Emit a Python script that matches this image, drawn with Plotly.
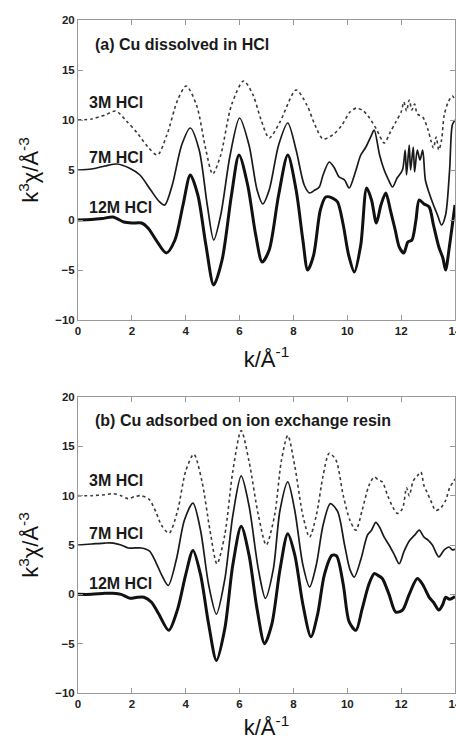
import plotly.graph_objects as go

# ---------------- panel (a): Cu dissolved in HCl ----------------
a3_k = [0, 0.5, 1.0, 1.4, 1.8, 2.2, 2.6, 2.95, 3.3, 3.7, 4.02, 4.4, 4.75, 5.0, 5.3, 5.7, 6.15, 6.5, 6.8, 7.1,
        7.5, 8.1, 8.5, 8.8, 9.1, 9.5, 9.8, 10.1, 10.35, 10.6, 10.8, 11.1, 11.37, 11.6, 11.8, 12.0, 12.1, 12.2,
        12.3, 12.4, 12.5, 12.6, 12.8, 13.0, 13.1, 13.2, 13.3, 13.4, 13.5, 13.6, 13.75, 13.9, 14.0]
a3_y = [10.0, 10.1, 10.5, 10.9, 9.9, 8.7, 7.3, 6.5, 8.5, 12.0, 13.4, 11.5, 7.0, 4.6, 6.5, 11.5, 13.9, 12.5, 10.0, 8.2,
        9.8, 13.0, 11.5, 9.5, 8.1, 8.6, 9.5, 10.8, 11.2, 10.9, 10.3, 9.0, 7.7, 8.8, 9.8, 10.8, 11.8, 10.9,
        12.0, 11.0, 11.6, 10.6, 10.3, 9.0, 8.0, 7.2, 8.3, 7.0, 8.0, 10.5, 11.8, 12.4, 12.0]

a7_k = [0, 0.5, 1.0, 1.45, 1.9, 2.3, 2.7, 3.0, 3.22, 3.5, 3.85, 4.17, 4.5, 4.8, 5.04, 5.3, 5.65, 6.0, 6.35, 6.65,
        6.86, 7.1, 7.45, 7.79, 8.1, 8.4, 8.6, 8.8, 8.96, 9.1, 9.33, 9.5, 9.7, 9.9, 10.07, 10.3, 10.5, 10.69,
        10.9, 11.0, 11.2, 11.37, 11.5, 11.68, 11.85, 12.05, 12.15, 12.2, 12.3, 12.35, 12.45, 12.5, 12.6, 12.7,
        12.8, 12.9, 13.04, 13.2, 13.35, 13.5, 13.65, 13.8, 13.9, 14.0]
a7_y = [5.0, 5.1, 5.4, 5.6, 5.2, 4.5, 3.0, 1.9, 1.5, 3.5, 7.5, 9.2, 7.0, 1.5, -2.0, 0.5, 6.5, 10.2, 7.5, 3.0,
        1.6, 3.0, 7.5, 9.7, 7.0, 3.5, 2.7, 3.0, 3.3, 4.5, 5.8, 5.3, 4.3, 4.0, 3.2, 4.8, 6.5, 7.3,
        8.5, 9.0, 6.5, 5.0, 4.2, 3.3, 4.2, 5.0, 7.0, 4.5, 7.5, 5.0, 7.3, 4.8, 7.0, 6.0,
        7.0, 4.0, 2.7, 1.5, 0.5, -0.5, 0.5, 5.0, 9.5, 10.0]

a12_k = [0, 0.5, 0.9, 1.3, 1.7, 2.0, 2.36, 2.6, 2.9, 3.28, 3.6, 3.9, 4.17, 4.45, 4.75, 5.04, 5.35, 5.7, 5.98,
         6.3, 6.6, 6.84, 7.1, 7.45, 7.79, 8.1, 8.35, 8.53, 8.75, 9.0, 9.2, 9.45, 9.64, 9.85, 10.05, 10.26,
         10.5, 10.72, 10.9, 11.08, 11.25, 11.43, 11.6, 11.78, 11.93, 12.1, 12.25, 12.4, 12.55, 12.67, 12.85,
         13.04, 13.2, 13.4, 13.55, 13.65, 13.8, 13.96, 14.0]
a12_y = [0, 0.05, 0.15, 0.3, -0.2, -0.3, -0.3, -0.8, -2.0, -3.3, -2.0, 1.5, 4.5, 2.5, -2.5, -6.5, -4.0, 2.5, 6.5,
         3.5, -1.5, -4.2, -3.0, 2.5, 6.5, 3.0, -2.0, -5.0, -3.5, 1.0, 2.3, 2.2, 1.8, -0.5, -3.5, -5.2,
         -2.5, 3.2, 2.0, -0.3, 1.5, 2.7, 1.0, -1.0, -2.7, -3.3, -2.2, -2.0, 0.0, 2.0, 1.6,
         1.3, -0.5, -2.7, -3.8, -5.0, -2.5, 0.7, 1.5]

# ---------------- panel (b): Cu adsorbed on ion exchange resin ----------------
b3_k = [0, 0.5, 1.0, 1.31, 1.6, 1.86, 2.1, 2.35, 2.65, 2.9, 3.1, 3.38, 3.7, 4.0, 4.3, 4.6, 4.9, 5.16, 5.45,
        5.75, 6.06, 6.35, 6.7, 6.99, 7.3, 7.55, 7.79, 8.05, 8.35, 8.6, 8.85, 9.1, 9.33, 9.58, 9.85, 10.1,
        10.32, 10.55, 10.8, 11.0, 11.15, 11.3, 11.5, 11.7, 11.86, 12.05, 12.2, 12.3, 12.45, 12.6, 12.73,
        12.85, 12.95, 13.1, 13.28, 13.45, 13.65, 13.8, 13.96, 14.0]
b3_y = [10.0, 10.0, 10.1, 10.2, 10.0, 9.7, 9.9, 10.0, 9.6, 8.3, 7.0, 6.2, 8.5, 12.5, 14.2, 11.5, 6.5, 3.1, 6.0,
        12.5, 16.6, 13.5, 8.0, 5.0, 8.0, 13.5, 16.1, 13.0, 8.0, 5.8, 8.0, 12.0, 14.3, 13.6, 10.0, 7.5,
        6.5, 8.5, 11.0, 11.9, 11.6, 11.4, 10.0, 8.8, 8.2, 8.7, 10.8, 10.0, 11.5, 12.0, 12.4,
        11.0, 10.4, 9.5, 8.5, 8.7, 9.5, 10.8, 11.5, 11.7]

b7_k = [0, 0.5, 1.0, 1.31, 1.6, 1.86, 2.1, 2.35, 2.65, 2.9, 3.1, 3.35, 3.65, 3.95, 4.27, 4.55, 4.85, 5.14,
        5.45, 5.75, 6.06, 6.35, 6.7, 6.96, 7.25, 7.5, 7.79, 8.05, 8.35, 8.6, 8.85, 9.1, 9.37, 9.64, 9.9,
        10.1, 10.26, 10.5, 10.75, 10.9, 11.06, 11.2, 11.37, 11.55, 11.75, 11.93, 12.1, 12.3, 12.5, 12.67,
        12.85, 13.0, 13.16, 13.4, 13.6, 13.78, 13.9, 14.0]
b7_y = [5.0, 5.1, 5.2, 5.2, 5.0, 4.7, 4.7, 4.7, 4.4, 3.2, 2.0, 0.9, 3.5, 7.5, 9.25, 6.5, 1.0, -2.0,
        1.5, 8.0, 12.0, 9.0, 2.5, -0.4, 2.5, 8.5, 11.4, 8.5, 3.0, 0.75, 3.0, 7.0, 9.2, 8.4, 5.0,
        2.5, 1.75, 3.5, 6.0, 6.5, 7.3, 6.8, 5.8, 5.0, 4.0, 3.1, 4.3, 5.4, 6.0, 6.5,
        5.8, 5.5, 5.0, 3.8, 4.5, 4.8, 4.5, 4.6]

b12_k = [0, 0.5, 1.0, 1.3, 1.6, 1.93, 2.2, 2.45, 2.73, 3.0, 3.37, 3.7, 4.0, 4.27, 4.55, 4.85, 5.14, 5.45,
         5.75, 6.06, 6.35, 6.65, 6.93, 7.2, 7.5, 7.79, 8.05, 8.35, 8.65, 8.9, 9.15, 9.43, 9.6, 9.85, 10.07,
         10.32, 10.55, 10.8, 11.0, 11.15, 11.3, 11.55, 11.8, 12.05, 12.3, 12.6, 12.8, 13.04, 13.2, 13.4,
         13.55, 13.65, 13.8, 13.96, 14.0]
b12_y = [0, 0.0, 0.1, 0.1, 0.0, -0.4, -0.3, -0.3, -0.8, -2.0, -3.65, -1.5, 2.0, 4.45, 2.0, -3.0, -6.7, -3.5,
         3.0, 6.9, 4.0, -1.5, -5.0, -3.0, 2.5, 6.15, 4.0, -1.0, -4.3, -2.0, 2.0, 3.95, 3.9, 1.0, -2.8,
         -3.65, -1.5, 1.0, 2.1, 1.9, 1.6, 0.0, -1.8, -1.6, 0.0, 1.6, 1.0, -0.3, -0.8, -1.6,
         -1.0, -0.3, -0.5, -0.3, -0.2]

series_labels = ["3M HCl", "7M HCl", "12M HCl"]
panel_titles = ["(a) Cu dissolved in HCl", "(b) Cu adsorbed on ion exchange resin"]
x_ticks = [0, 2, 4, 6, 8, 10, 12, 14]
y_ticks = [-10, -5, 0, 5, 10, 15, 20]
label_y_a = [11.8, 6.3, 1.3]
label_y_b = [11.55, 6.2, 1.1]

fig = go.Figure()

styles = [
    dict(color="#3a3a3a", width=1.6, dash="dot"),
    dict(color="#1a1a1a", width=1.7),
    dict(color="#111111", width=3.0),
]

panels = [
    ("x", "y", [(a3_k, a3_y), (a7_k, a7_y), (a12_k, a12_y)]),
    ("x2", "y2", [(b3_k, b3_y), (b7_k, b7_y), (b12_k, b12_y)]),
]
for xa, ya, data in panels:
    for (kk, yy), st, name in zip(data, styles, series_labels):
        fig.add_trace(go.Scatter(x=kk, y=yy, mode="lines", name=name, xaxis=xa, yaxis=ya,
                                 line=dict(shape="spline", smoothing=0.8, **st),
                                 showlegend=False, hoverinfo="skip"))

tickfont = dict(family="Liberation Sans", size=11.5, color="#222", weight="bold")
titlefont = dict(family="Liberation Sans", size=22, color="#111")
frame = dict(showline=True, linecolor="#999", linewidth=1, mirror="ticks", ticks="inside",
             ticklen=5, tickcolor="#999", showgrid=False, zeroline=False, automargin=False,
             tickfont=tickfont, ticklabeloverflow="allow")

xa_common = dict(range=[0, 14], tickvals=x_ticks, **frame)
ya_common = dict(range=[-10, 20], tickvals=y_ticks, **frame)

fig.update_layout(
    width=456, height=740,
    margin=dict(l=78, r=1, t=20, b=47),
    paper_bgcolor="white", plot_bgcolor="white",
    xaxis=dict(anchor="y", domain=[0, 1],
               title=dict(text="k/Å<sup>-1</sup>", font=titlefont, standoff=15), **xa_common),
    yaxis=dict(anchor="x", domain=[0.5542, 1],
               title=dict(text="k<sup>3</sup>χ/Å<sup>-3</sup>", font=titlefont, standoff=10), **ya_common),
    xaxis2=dict(anchor="y2", domain=[0, 1],
                title=dict(text="k/Å<sup>-1</sup>", font=titlefont, standoff=15), **xa_common),
    yaxis2=dict(anchor="x2", domain=[0, 0.4398],
                title=dict(text="k<sup>3</sup>χ/Å<sup>-3</sup>", font=titlefont, standoff=10), **ya_common),
)

labfont = dict(family="Liberation Sans", size=16, color="#1a1a1a", weight="bold")
for i, (xr, yr, ly) in enumerate([("x", "y", label_y_a), ("x2", "y2", label_y_b)]):
    fig.add_annotation(x=0.55, y=17.6, xref=xr, yref=yr, text=panel_titles[i], showarrow=False,
                       xanchor="left", yanchor="middle", font=labfont)
    for lab, yv in zip(series_labels, ly):
        fig.add_annotation(x=0.35, y=yv, xref=xr, yref=yr, text=lab, showarrow=False,
                           xanchor="left", yanchor="middle", font=labfont)

fig.write_html("out.html", config={"displayModeBar": False},
               post_script="document.body.style.margin='0';document.body.style.overflow='hidden';")
